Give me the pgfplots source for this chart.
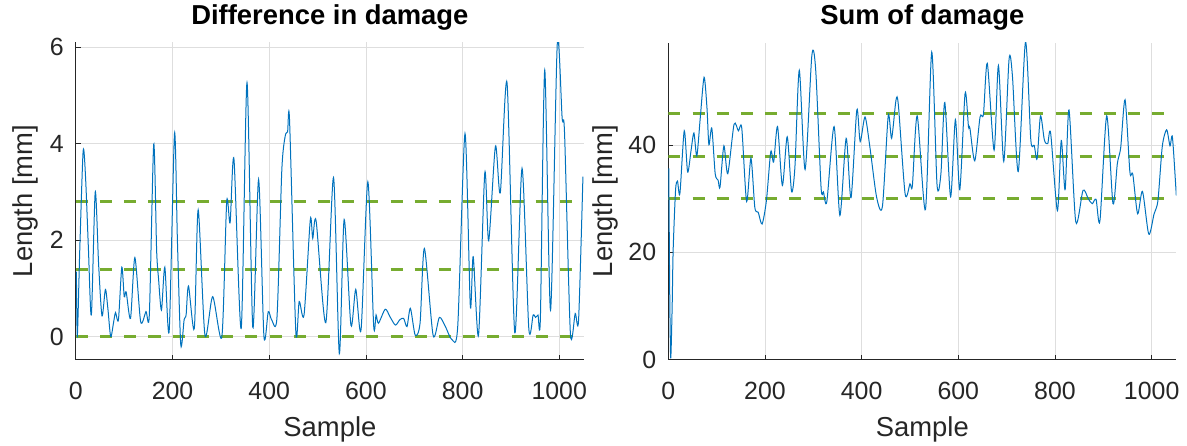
\documentclass[border=0pt]{standalone}
\usepackage{pgfplots}
\pgfplotsset{compat=1.18}
\usepackage{fontspec}
\setmainfont{Liberation Sans}
\definecolor{mblue}{RGB}{0,114,189}
\definecolor{mgreen}{RGB}{119,172,48}
\definecolor{axgray}{RGB}{38,38,38}
\definecolor{grd}{RGB}{222,222,222}
\pgfplotsset{
  mystyle/.style={
    scale only axis, width=508bp, height=317bp,
    axis lines*=left, axis line style={-, axgray, line width=1bp},
    tick align=inside, major tick length=5bp,
    tick style={axgray, line width=0.8bp},
    grid=major, major grid style={grd, line width=0.8bp},
    xmin=0, xmax=1051, xtick={0,200,...,1000},
    /pgf/number format/assume math mode=true,
    /pgf/number format/1000 sep={},
    ticklabel style={font=\fontsize{25}{30}\selectfont, text=axgray},
    xticklabel style={anchor=base, yshift=-40bp, inner sep=0pt},
    yticklabel style={anchor=east, inner sep=0pt, xshift=-12bp},
    label style={font=\fontsize{27.5}{33}\selectfont, text=axgray},
    xlabel style={at={(axis description cs:0.5,0)}, anchor=base, yshift=-77bp},
    title style={at={(axis description cs:0.5,1)}, anchor=base, yshift=12bp, font=\fontsize{27.5}{33}\selectfont\bfseries},
    xlabel={Sample}, ylabel={Length [mm]},
  },
  thr/.style={color=mgreen, line width=3bp, dash pattern=on 12.1bp off 12.1bp, forget plot},
  sig/.style={color=mblue, line width=1bp, smooth, tension=0.45, no marks},
}
\begin{document}
\begin{tikzpicture}
\path[use as bounding box] (-75.9bp,-86.5bp) rectangle (1111.1bp,359.5bp);
\begin{axis}[mystyle, at={(0bp,0bp)}, anchor=south west,
  ymin=-0.473, ymax=6.10, ytick={0,2,4,6},
  title={Difference in damage},
  ylabel style={at={(axis description cs:-0.0846,0.5)}, anchor=base, rotate=0}]
\addplot[thr] coordinates {(0,2.8)(1051,2.8)};
\addplot[thr] coordinates {(0,1.4)(1051,1.4)};
\addplot[thr] coordinates {(0,0)(1051,0)};
\addplot[sig] coordinates {
(1,1.35)(3,0.02)(8,1.8)(15,3.85)(20,3.3)(26,1.8)(32,0.45)(40,3.0)(47,1.5)(54,0.43)(61,0.98)(66,0.6)(72,0.0)(78,0.3)(82,0.5)(88,0.35)(95,1.44)(100,0.83)(104,0.93)(113,0.38)(122,1.64)(134,0.31)(145,0.52)(152,0.47)(161,3.99)(167,1.8)(171,1.2)(177,0.55)(184,1.44)(193,0.12)(204,4.21)(210,2.0)(217,-0.17)(224,0.36)(228,0.45)(233,1.05)(245,0.17)(253,2.63)(267,0.03)(283,0.83)(302,0.0)(312,2.8)(319,2.36)(327,3.68)(342,0.17)(354,5.27)(366,0.19)(378,3.26)(389,0.01)(398,0.52)(405,0.35)(416,0.4)(426,3.45)(433,4.16)(438,4.25)(442,4.49)(455,0.1)(462,0.73)(472,0.45)(485,2.43)(490,2.04)(497,2.40)(517,0.29)(533,3.30)(545,-0.35)(555,2.43)(569,0.24)(579,0.98)(590,0.15)(604,3.21)(616,0.24)(621,0.45)(626,0.28)(640,0.57)(650,0.41)(661,0.24)(670,0.35)(678,0.38)(685,0.21)(692,0.59)(702,0.03)(712,0.28)(721,1.83)(739,0.03)(752,0.40)(764,0.22)(778,-0.06)(790,0.22)(805,4.21)(816,0.64)(822,1.66)(833,0.03)(846,3.40)(854,1.99)(868,3.95)(878,2.98)(892,5.26)(908,0.08)(923,3.49)(937,0.17)(946,0.45)(951,0.40)(956,0.45)(961,0.4)(970,5.53)(982,0.55)(996,6.09)(1006,4.53)(1011,4.21)(1023,0.08)(1033,0.48)(1040,0.35)(1049,3.32)
};
\end{axis}
\begin{axis}[mystyle, at={(592.4bp,0bp)}, anchor=south west,
  ymin=0, ymax=59.2, ytick={0,20,40},
  title={Sum of damage},
  ylabel style={at={(axis description cs:-0.110,0.5)}, anchor=base, rotate=0}]
\addplot[thr] coordinates {(0,46)(1051,46)};
\addplot[thr] coordinates {(0,38)(1051,38)};
\addplot[thr] coordinates {(0,30)(1051,30)};
\addplot[sig] coordinates {
(1,35.7)(3,12)(5,0.2)(8,10)(10,20.3)(15,31.6)(19,33.3)(24,31)(33,42.7)(40,35.0)(47,39)(53,42.3)(59,38)(66,45)(74,52.7)(80,47)(84,40.1)(90,43.2)(97,34.7)(103,33.5)(107,32.2)(115,39.9)(123,34.7)(136,43.9)(145,42.7)(152,43.2)(162,29.5)(171,37.6)(179,28.4)(186,27.5)(194,25.3)(203,29.7)(212,38.8)(218,36.9)(226,43.5)(236,32.5)(246,41.6)(255,31.4)(262,36)(271,54.0)(283,35.5)(297,56.8)(305,54)(316,32.2)(321,31.3)(328,29.5)(343,43.5)(355,26.9)(368,41.3)(378,30.2)(390,46.6)(397,40.7)(407,45.3)(417,39.7)(431,30.3)(443,28.6)(455,45.5)(462,41.3)(471,48.4)(476,47.5)(490,30.9)(500,32.8)(505,32.5)(515,45.5)(532,28.0)(545,57.4)(556,32.6)(564,34.7)(572,48)(584,30.4)(594,44.8)(603,31.7)(614,49.7)(621,43.5)(624,43.2)(634,37.1)(645,45.3)(652,45.8)(660,55.3)(674,39.1)(683,54.9)(694,37.0)(705,56.1)(712,52.9)(724,35.1)(739,59.3)(750,41)(757,40)(763,37.5)(770,45.5)(778,41)(785,40.3)(791,42.3)(805,27.8)(813,40.9)(821,31.7)(829,46.6)(843,25.7)(858,31.6)(869,30.0)(877,29.1)(885,29.9)(893,25.9)(907,45.5)(920,29.1)(929,36.6)(936,39.6)(945,48.5)(955,35)(961,34.6)(971,27.2)(981,31.4)(994,23.4)(1005,27.2)(1013,29.7)(1022,39.8)(1031,42.9)(1038,39.9)(1043,41.5)(1051,30.6)
};
\end{axis}
\end{tikzpicture}
\end{document}
